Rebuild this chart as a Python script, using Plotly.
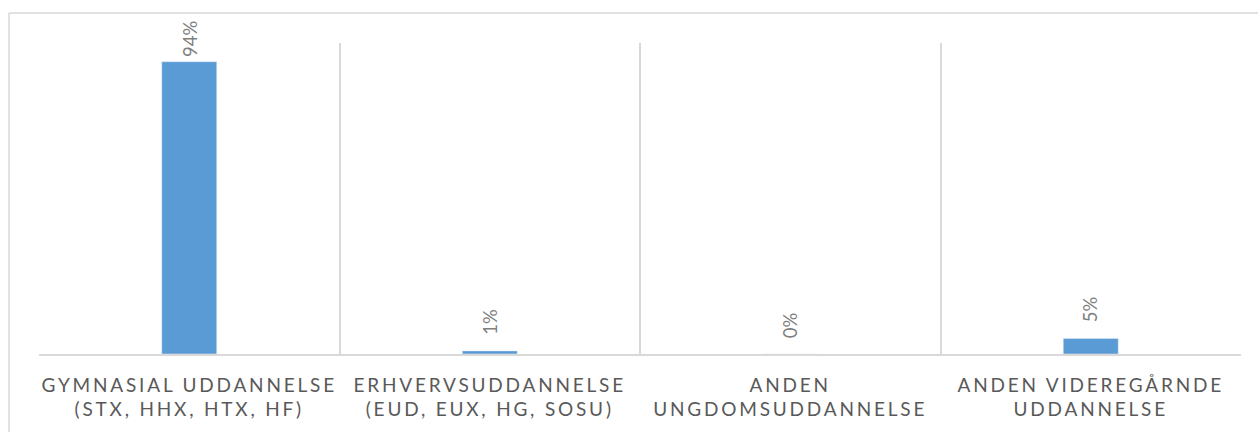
import plotly.graph_objects as go

categories = [
    "GYMNASIAL UDDANNELSE<br>(STX, HHX, HTX, HF)",
    "ERHVERVSUDDANNELSE<br>(EUD, EUX, HG, SOSU)",
    "ANDEN<br>UNGDOMSUDDANNELSE",
    "ANDEN VIDEREGÅRNDE<br>UDDANNELSE",
]
values = [0.94, 0.01, 0.00, 0.05]
labels = ["94%", "1%", "0%", "5%"]

W, H = 1258, 432
L, R, T, B = 39, 17, 43, 78
pw, ph = W - L - R, H - T - B

fig = go.Figure()
fig.add_trace(go.Bar(
    x=categories, y=values, marker_color="#5b9bd5", width=0.183,
    hoverinfo="skip",
))

for c, v, t in zip(categories, values, labels):
    fig.add_annotation(
        x=c, y=v, text=t, textangle=-90, showarrow=False,
        yanchor="bottom", yshift=3 if v > 0.9 else 14,
        font=dict(family="Lato", size=18.5, color="#7f7f7f"),
    )

# outer chart border (left and top visible)
def px_x(p):
    return (p - L) / pw
def px_y(p):
    return (H - B - p) / ph

fig.add_shape(type="line", xref="paper", yref="paper",
              x0=px_x(9), x1=px_x(1270), y0=px_y(13), y1=px_y(13),
              line=dict(color="#d9d9d9", width=1.5))
fig.add_shape(type="line", xref="paper", yref="paper",
              x0=px_x(9), x1=px_x(9), y0=px_y(13), y1=px_y(440),
              line=dict(color="#d9d9d9", width=1.5))

fig.update_layout(
    width=W, height=H,
    margin=dict(l=L, r=R, t=T, b=B),
    paper_bgcolor="white", plot_bgcolor="white",
    showlegend=False,
    xaxis=dict(
        tickson="boundaries", showgrid=True, gridcolor="#d9d9d9", gridwidth=1.5,
        ticks="", showline=True, linecolor="#d9d9d9", linewidth=1.5,
        tickfont=dict(family="Lato", size=19, color="#595959"),
        ticklabelstandoff=13,
        range=[-0.5, 3.5],
    ),
    yaxis=dict(range=[0, 1], showgrid=False, showticklabels=False,
               zeroline=False, showline=False, ticks=""),
)

post = """
var s = document.createElement('style');
s.innerHTML = 'body { margin: 0 !important; } .xtick text { letter-spacing: 2.8px; }';
document.head.appendChild(s);
"""
fig.write_html("out.html", post_script=post, config={"displayModeBar": False})
